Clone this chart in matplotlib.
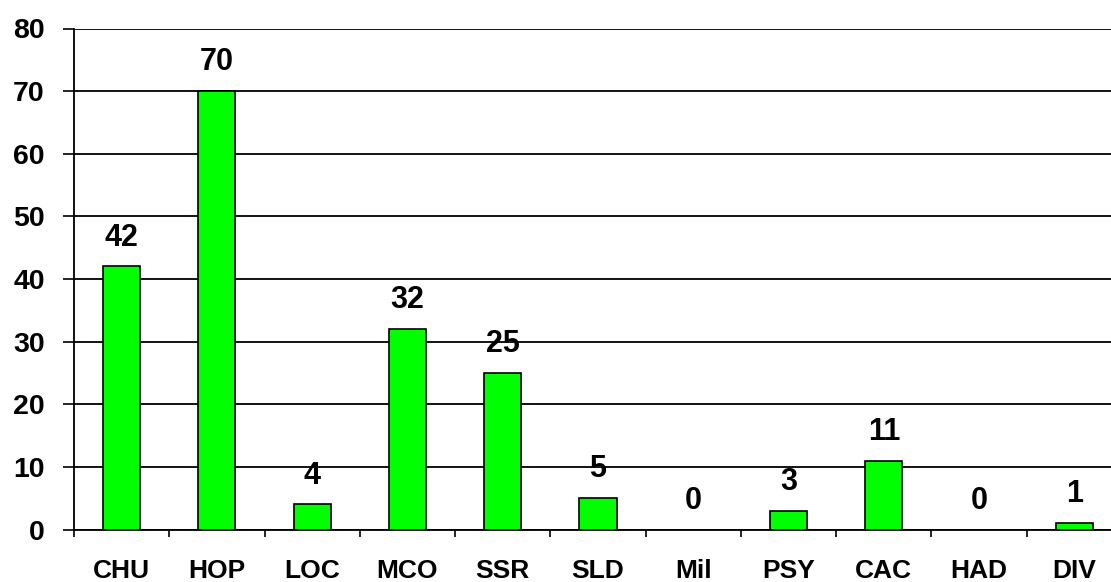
import matplotlib.pyplot as plt
import numpy as np

categories = ["CHU", "HOP", "LOC", "MCO", "SSR", "SLD", "Mil", "PSY", "CAC", "HAD", "DIV"]
values = [42, 70, 4, 32, 25, 5, 0, 3, 11, 0, 1]
y_ticks = [0, 10, 20, 30, 40, 50, 60, 70, 80]

plt.rcParams['font.family'] = ['Liberation Sans', 'DejaVu Sans']
plt.rcParams['font.weight'] = 'bold'

fig = plt.figure(figsize=(11.11, 5.82), dpi=100)
ax = fig.add_axes([74 / 1111, 52.5 / 582, 1048 / 1111, 501 / 582])

x = np.arange(len(categories))
ax.bar(x, values, width=0.39, color="#00ff00", edgecolor="black", linewidth=1.2, zorder=3)

for xi, v in zip(x, values):
    ax.annotate(str(v), (xi, v), xytext=(0, 15), textcoords="offset points",
                ha="center", va="baseline", fontsize=22, fontweight="bold")

ax.set_xlim(-0.5, len(categories) - 0.5)
ax.set_ylim(0, 80)
ax.set_yticks(y_ticks)
ax.yaxis.grid(True, color="black", linewidth=1.3, zorder=0)
ax.set_axisbelow(True)

ax.set_xticks(x)
ax.set_xticklabels(categories, fontsize=19, fontweight="bold")
ax.set_xticks(np.arange(-0.5, len(categories), 1), minor=True)
ax.tick_params(axis="x", which="major", length=0, pad=21)
ax.tick_params(axis="x", which="minor", length=5, width=1.2, direction="out")
ax.tick_params(axis="y", length=8, width=1.2, pad=13, labelsize=20.5)
for lab in ax.get_yticklabels():
    lab.set_fontweight("bold")

for s in ["top", "right"]:
    ax.spines[s].set_visible(False)
ax.spines["left"].set_linewidth(1.3)
ax.spines["bottom"].set_linewidth(1.3)

plt.savefig("out.png", dpi=100)
